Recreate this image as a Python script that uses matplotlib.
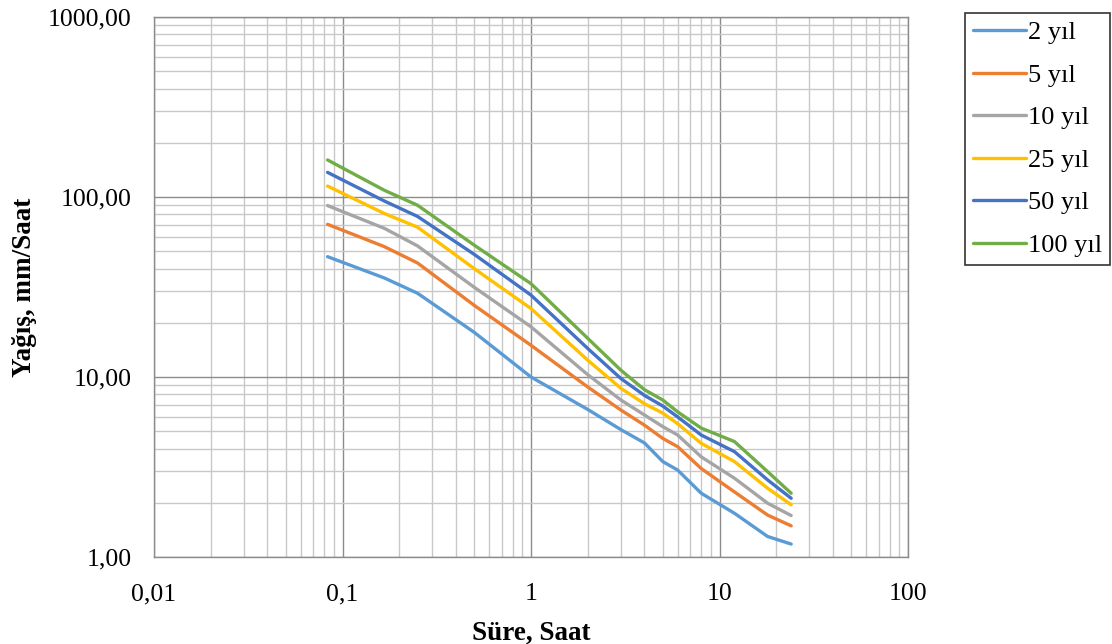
import numpy as np
import matplotlib
matplotlib.use("Agg")
import matplotlib.pyplot as plt
from matplotlib.ticker import FixedLocator, LogLocator, NullFormatter, FixedFormatter

plt.rcParams['font.family'] = ['Liberation Serif', 'DejaVu Serif']

# Durations (hours)
durations = [5/60, 10/60, 15/60, 0.5, 1, 2, 3, 4, 5, 6, 8, 12, 18, 24]

# Intensities (mm/h) per return period
y2 = [46.6, 35.5, 29.2, 17.7, 10.0, 6.6, 5.1, 4.3, 3.39, 3.04, 2.26, 1.75, 1.30, 1.18]
y5 = [70.5, 53.0, 43.0, 25.0, 15.0, 8.8, 6.55, 5.4, 4.56, 4.1, 3.1, 2.3, 1.71, 1.49]
y10 = [89.6, 67.0, 53.5, 31.5, 19.0, 10.3, 7.45, 6.15, 5.3, 4.76, 3.6, 2.74, 1.99, 1.70]
y25 = [115.0, 81.0, 68.0, 40.0, 24.0, 12.4, 8.65, 7.1, 6.3, 5.5, 4.28, 3.39, 2.41, 1.95]
y50 = [137.0, 95.0, 78.0, 48.0, 28.5, 14.4, 9.8, 7.9, 6.9, 6.0, 4.76, 3.85, 2.68, 2.12]
y100 = [160.6, 109.0, 90.0, 54.0, 33.0, 16.4, 10.9, 8.5, 7.45, 6.4, 5.2, 4.38, 2.98, 2.26]

series = [y2, y5, y10, y25, y50, y100]
labels = ["2 yıl", "5 yıl", "10 yıl", "25 yıl", "50 yıl", "100 yıl"]
colors = ["#5B9BD5", "#ED7D31", "#A5A5A5", "#FFC000", "#4472C4", "#70AD47"]

x_ticks = [0.01, 0.1, 1, 10, 100]
x_ticklabels = ["0,01", "0,1", "1", "10", "100"]
y_ticks = [1, 10, 100, 1000]
y_ticklabels = ["1,00", "10,00", "100,00", "1000,00"]

fig = plt.figure(figsize=(11.12, 6.44), dpi=100)
ax = fig.add_axes([154/1112, 1 - 557/644, (908-154)/1112, (557-17)/644])

for vals, lab, col in zip(series, labels, colors):
    ax.plot(durations, vals, color=col, linewidth=2.4, label=lab, solid_capstyle='round')

ax.set_xscale('log')
ax.set_yscale('log')
ax.set_xlim(0.01, 100)
ax.set_ylim(1, 1000)

ax.xaxis.set_major_locator(FixedLocator(x_ticks))
ax.xaxis.set_major_formatter(FixedFormatter(x_ticklabels))
ax.yaxis.set_major_locator(FixedLocator(y_ticks))
ax.yaxis.set_major_formatter(FixedFormatter(y_ticklabels))
ax.xaxis.set_minor_locator(LogLocator(base=10, subs=np.arange(2, 10)))
ax.yaxis.set_minor_locator(LogLocator(base=10, subs=np.arange(2, 10)))
ax.xaxis.set_minor_formatter(NullFormatter())
ax.yaxis.set_minor_formatter(NullFormatter())

ax.grid(True, which='major', color='#8C8C8C', linewidth=1.0)
ax.grid(True, which='minor', color='#C8C8C8', linewidth=1.0)
ax.set_axisbelow(True)
ax.tick_params(which='both', length=0, labelsize=18.5, colors='black')
ax.tick_params(axis='y', pad=16)
ax.tick_params(axis='x', pad=19)
for sp in ax.spines.values():
    sp.set_color('#8C8C8C')
    sp.set_linewidth(1.0)

ax.set_xlabel("Süre, Saat", fontsize=19.5, fontweight='bold', labelpad=11)
ax.set_ylabel("Yağış, mm/Saat", fontsize=19.5, fontweight='bold', labelpad=8)

leg = ax.legend(loc='upper left', bbox_to_anchor=(965/1112, 1 - 13/644),
                bbox_transform=fig.transFigure, fontsize=19, frameon=True,
                fancybox=False, edgecolor='black', handlelength=2.0,
                handletextpad=0.1, labelspacing=0.72, borderpad=0.3,
                borderaxespad=0)
leg.get_frame().set_linewidth(1.2)

fig.savefig("out.png", dpi=100)
